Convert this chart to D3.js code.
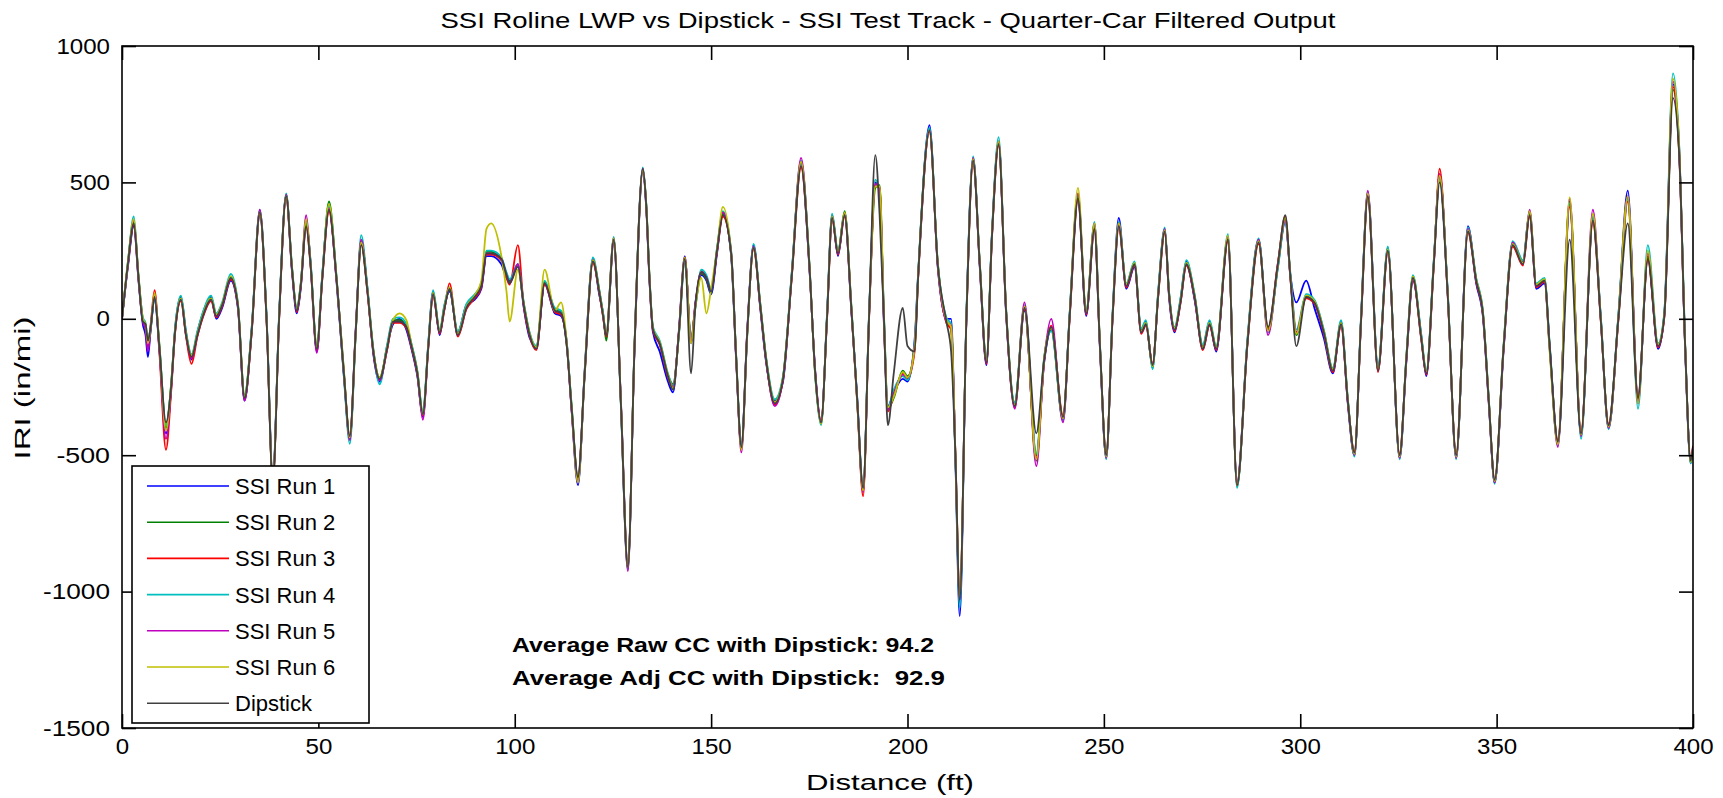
<!DOCTYPE html>
<html>
<head>
<meta charset="utf-8">
<script src="https://cdn.jsdelivr.net/npm/d3@7"></script>
<style>
body { margin: 0; background: #fff; }
text { font-family: "Liberation Sans", Arial, sans-serif; }
</style>
</head>
<body>
<script>
var width = 1723,
    height = 798;
var plotLeft = 122,
    plotRight = 1693,
    plotTop = 46,
    plotBottom = 728;

// distance along the track (ft), shared by every series
var dist = [0,1.5,3.0,4.2,5.3,6.0,6.6,7.3,8.3,9.5,
  11.2,12.5,13.5,15.0,16.3,17.7,19.2,20.6,22.7,24.0,
  25.5,27.7,29.5,31.2,33.0,35.1,36.8,38.4,40.0,41.8,
  43.3,44.5,45.5,46.9,48.0,49.6,51.0,52.7,54.6,56.5,
  58.0,59.5,60.9,62.5,64.0,65.6,67.5,69.0,70.7,72.4,
  73.7,75.2,76.6,78.0,79.2,80.9,82.0,83.4,85.5,87.7,
  89.8,91.5,92.8,94.0,96.6,97.9,98.7,100.8,102.3,103.8,
  105.5,107.6,110.2,111.8,113.2,114.5,116.1,117.8,119.9,121.5,
  122.5,123.3,125.2,127.0,128.8,130.5,132.6,133.5,134.3,135.2,
  136.9,139.0,140.3,141.8,143.3,144.9,146.0,147.5,148.8,150.0,
  151.5,153.0,155.1,156.4,157.7,159.2,160.8,162.5,164.0,166.2,
  168.3,170.5,172.9,175.0,176.5,178.0,179.5,180.8,182.3,184.0,
  185.7,187.2,188.7,190.2,191.8,192.9,194.0,195.0,196.5,198.8,
  200.0,201.8,202.7,205.6,207.7,209.9,211.1,212.2,213.3,215.0,
  216.7,218.4,220.1,221.5,223.2,225.1,227.3,229.8,232.8,234.8,
  236.6,239.6,241.3,243.4,245.5,247.6,249.0,250.6,252.2,253.8,
  255.7,257.8,259.5,260.7,262.4,263.8,265.5,266.6,268.0,269.5,
  271.0,273.1,275.2,276.9,278.6,281.6,283.9,286.5,289.4,291.8,
  294.3,296.2,297.5,299.0,301.5,303.6,306.0,308.3,310.4,312.1,
  313.8,315.5,317.2,319.8,322.3,325.3,327.0,328.7,330.8,332.1,
  334.0,335.5,337.5,339.7,342.7,344.8,346.5,348.0,349.5,351.8,
  354.1,356.7,358.4,360.1,362.2,363.5,365.6,368.6,371.5,374.5,
  376.5,378.5,381.0,383.4,386.0,388.5,391.1,392.7,394.9,396.5,
  398.0,399.4,400.0];

var run1 = [0,190,340,140,-20,-60,-140,-40,70,-110,
  -420,-260,-40,80,-50,-150,-50,20,80,0,
  40,140,40,-300,-40,380,10,-580,10,450,
  170,20,110,350,210,-120,160,410,140,-210,
  -440,-40,280,110,-130,-230,-100,-20,0,-40,
  -110,-210,-360,-90,100,-60,40,100,-50,50,
  70,110,230,230,200,150,140,200,40,-70,
  -100,130,20,10,-80,-340,-610,-190,220,90,
  20,-70,280,-290,-900,-110,540,400,140,-50,
  -120,-230,-270,-40,230,-90,60,160,140,90,
  240,390,230,-160,-470,-40,270,40,-160,-300,
  -230,160,570,190,-190,-380,10,380,230,390,
  30,-290,-630,10,500,470,-20,-320,-270,-220,
  -230,-80,160,710,190,0,0,-520,-1090,10,
  590,190,-170,310,650,20,-310,30,-500,-160,
  -40,-370,20,450,10,340,-110,-510,10,370,
  110,190,-40,-10,-180,90,330,80,-50,70,
  210,70,-100,-10,-120,300,-600,-90,290,-40,
  190,360,160,60,140,40,-70,-200,-10,-310,
  -500,10,460,-180,260,-510,-160,140,-60,-210,
  210,520,110,-510,340,130,10,-310,-600,-110,
  280,210,390,110,130,-110,-460,430,-430,370,
  10,-400,10,470,-300,230,-110,20,860,620,
  -110,-530,-480];

var run2 = [0,210,355,160,0,-30,-110,-40,85,-90,
  -400,-240,-45,75,-55,-135,-55,15,75,15,
  55,155,55,-280,-45,395,5,-590,5,455,
  185,35,125,360,205,-100,155,430,155,-190,
  -440,-55,285,105,-115,-215,-105,-5,-5,-25,
  -95,-195,-345,-95,95,-45,35,105,-55,45,
  85,125,245,245,215,165,135,195,55,-55,
  -105,135,35,25,-95,-320,-590,-210,215,105,
  15,-80,295,-305,-915,-95,545,415,155,-35,
  -85,-205,-240,-55,215,-70,45,165,145,95,
  255,385,235,-145,-475,-55,265,55,-145,-305,
  -215,155,575,205,-205,-385,5,375,245,395,
  45,-305,-630,5,480,490,10,-330,-290,-190,
  -210,-110,155,695,205,-5,-30,-505,-1040,5,
  585,205,-155,305,645,35,-315,45,-520,-145,
  -35,-365,15,445,25,345,-95,-505,5,345,
  125,205,-45,-15,-175,85,325,95,-35,65,
  205,85,-105,-15,-105,295,-615,-95,285,-45,
  195,365,155,-60,85,65,-45,-185,-15,-295,
  -495,5,455,-185,255,-505,-145,155,-65,-195,
  205,530,105,-505,325,145,25,-295,-600,-95,
  275,205,385,125,145,-95,-455,420,-425,365,
  5,-395,5,445,-295,225,-95,15,840,605,
  -95,-525,-475];

var run3 = [0,195,345,145,-5,-25,-100,-20,105,-120,
  -480,-270,-55,65,-65,-165,-65,5,65,5,
  45,145,45,-295,-55,385,-5,-595,-5,445,
  175,25,115,335,195,-115,145,395,145,-205,
  -435,-45,275,95,-125,-225,-115,-15,-15,-35,
  -105,-205,-355,-105,85,-55,25,130,-65,35,
  75,115,235,235,215,150,125,270,45,-65,
  -115,125,25,15,-85,-335,-585,-205,205,95,
  5,-65,285,-295,-905,-105,545,405,145,-45,
  -95,-215,-255,-45,225,-80,55,175,155,105,
  245,375,245,-155,-475,-45,255,45,-155,-315,
  -225,145,555,195,-195,-375,-5,365,235,375,
  35,-310,-650,-5,490,480,-10,-340,-280,-200,
  -220,-120,145,685,195,-15,-40,-495,-1020,-5,
  575,195,-165,295,635,25,-325,35,-510,-155,
  -25,-355,5,435,15,325,-105,-495,-5,335,
  115,195,-55,-25,-165,75,315,85,-45,55,
  195,75,-115,-25,-115,285,-605,-105,275,-35,
  205,375,145,-50,75,55,-55,-195,-25,-305,
  -485,-5,445,-195,245,-495,-155,145,-75,-205,
  195,550,95,-495,315,135,15,-305,-595,-105,
  265,195,375,115,135,-105,-445,410,-415,355,
  -5,-385,-5,430,-285,215,-105,5,850,595,
  -105,-515,-465];

var run4 = [0,205,375,155,5,-15,-90,-25,75,-95,
  -390,-245,-35,85,-45,-130,-45,25,85,20,
  60,165,60,-285,-35,400,15,-585,15,460,
  190,40,130,355,215,-105,165,415,160,-215,
  -458,-60,307,115,-110,-240,-95,0,5,-20,
  -90,-190,-340,-85,105,-40,45,115,-45,55,
  90,130,250,250,225,170,145,200,60,-50,
  -100,140,40,30,-80,-325,-600,-195,225,110,
  20,-55,300,-310,-920,-90,555,420,160,-30,
  -80,-200,-245,-60,210,-75,40,180,160,110,
  260,395,250,-140,-465,-60,275,60,-140,-295,
  -210,165,580,210,-210,-390,15,385,250,385,
  50,-295,-625,15,510,460,20,-325,-260,-210,
  -225,-90,165,700,210,5,-20,-515,-1060,15,
  595,210,-150,315,666,40,-305,50,-495,-140,
  -45,-375,25,455,30,355,-90,-515,15,355,
  130,210,-35,-5,-185,95,335,100,-30,75,
  215,90,-95,-5,-100,310,-620,-85,295,-50,
  185,355,165,-40,90,70,-40,-180,-5,-290,
  -505,15,465,-175,265,-515,-140,160,-55,-190,
  215,520,115,-515,335,150,30,-290,-605,-90,
  285,215,395,130,150,-90,-465,425,-440,375,
  15,-405,15,440,-330,270,-90,25,900,630,
  -90,-530,-485];

var run5 = [0,200,360,150,-10,-40,-120,-35,90,-105,
  -440,-255,-50,70,-60,-145,-60,10,70,10,
  50,150,50,-300,-50,400,0,-590,0,455,
  180,30,120,380,200,-125,150,405,150,-200,
  -445,-50,290,100,-120,-225,-110,-10,-10,-30,
  -100,-200,-370,-100,90,-50,30,110,-60,40,
  80,120,240,240,220,160,130,200,50,-60,
  -110,130,30,20,-90,-340,-600,-200,215,100,
  10,-60,295,-300,-925,-100,550,410,150,-40,
  -90,-210,-250,-50,220,-85,50,170,150,100,
  250,390,240,-150,-490,-50,265,50,-150,-320,
  -220,150,590,200,-200,-380,0,375,240,385,
  40,-300,-635,0,495,475,0,-335,-275,-205,
  -215,-100,150,690,200,-10,-25,-500,-1030,0,
  590,200,-160,300,650,30,-330,60,-540,-150,
  0,-380,10,460,20,350,-100,-510,0,350,
  120,200,-50,-20,-170,80,330,90,-40,60,
  200,80,-110,-20,-110,300,-610,-100,290,-60,
  200,360,150,-50,80,60,-50,-190,-20,-300,
  -500,0,470,-190,250,-510,-150,150,-70,-200,
  200,530,100,-510,330,140,20,-300,-600,-100,
  280,200,400,120,140,-100,-470,440,-430,400,
  0,-400,0,450,-310,240,-100,10,870,610,
  -100,-520,-470];

var run6 = [0,205,365,155,0,-20,-90,-30,95,-95,
  -410,-245,-45,75,-55,-135,-55,15,75,15,
  55,155,55,-285,-45,390,5,-590,5,450,
  185,35,125,365,205,-105,155,420,155,-195,
  -435,-55,280,105,-115,-215,-105,-5,20,-5,
  -95,-195,-350,-95,95,-45,35,115,-55,45,
  85,140,330,350,230,100,-10,180,55,-55,
  -105,180,30,60,-80,-330,-600,-195,215,105,
  15,-55,295,-295,-910,-95,545,415,155,-35,
  -85,-205,-255,-55,225,-90,45,150,20,110,
  255,410,240,-145,-480,-55,260,55,-145,-305,
  -215,155,575,205,-205,-385,5,375,245,390,
  45,-305,-630,5,485,485,5,-325,-285,-195,
  -215,-105,155,690,205,-5,-30,-500,-1020,5,
  585,205,-155,305,650,35,-315,45,-515,-145,
  -35,-365,15,480,25,350,-95,-505,5,350,
  125,205,-45,-15,-175,85,325,95,-35,65,
  205,85,-105,-15,-105,305,-610,-95,285,-45,
  195,370,155,-55,85,65,-45,-185,-15,-295,
  -495,5,460,-185,255,-505,-145,155,-65,-195,
  205,525,105,-505,325,145,25,-295,-595,-95,
  275,205,395,125,145,-120,-460,445,-425,385,
  5,-395,5,450,-310,250,-95,15,880,625,
  -95,-525,-475];

var dipstick = [0,200,350,150,-10,-20,-80,-30,80,-100,
  -380,-250,-50,70,-60,-140,-60,10,70,10,
  50,150,50,-290,-50,390,0,-600,0,450,
  180,30,120,340,200,-110,150,400,150,-200,
  -430,-50,270,100,-120,-220,-110,-10,-10,-30,
  -100,-200,-350,-100,90,-50,30,110,-60,40,
  80,120,240,240,220,160,130,190,50,-60,
  -110,130,30,20,-90,-330,-580,-200,210,100,
  10,-60,290,-300,-910,-100,550,410,150,-40,
  -90,-210,-260,-50,220,-200,50,170,150,100,
  250,380,240,-150,-470,-50,260,50,-150,-310,
  -220,150,560,200,-200,-380,0,370,240,380,
  40,-300,-620,0,600,380,0,-390,-200,40,
  -100,-120,150,690,200,-10,-120,-500,-1030,0,
  580,200,-160,300,640,30,-320,40,-420,-150,
  -30,-360,10,440,20,330,-100,-500,0,340,
  120,200,-50,-20,-170,80,320,90,-40,60,
  200,80,-110,-20,-110,290,-610,-100,280,-30,
  200,380,150,-100,80,60,-50,-190,-20,-300,
  -490,0,450,-190,250,-500,-150,150,-70,-200,
  200,500,100,-500,320,140,20,-300,-590,-100,
  270,200,380,120,140,-100,-450,290,-420,360,
  0,-390,0,350,-290,220,-100,10,810,600,
  -100,-520,-470];

var seriesNames = ["SSI Run 1", "SSI Run 2", "SSI Run 3", "SSI Run 4", "SSI Run 5", "SSI Run 6", "Dipstick"];
var seriesValues = [run1, run2, run3, run4, run5, run6, dipstick];
var seriesColors = ["#0000ff", "#008000", "#ff0000", "#00bfbf", "#bf00bf", "#bfbf00", "#404040"];

var xTicks = [0, 50, 100, 150, 200, 250, 300, 350, 400];
var yTicks = [-1500, -1000, -500, 0, 500, 1000];

var titleText = "SSI Roline LWP vs Dipstick - SSI Test Track - Quarter-Car Filtered Output";
var xLabel = "Distance (ft)";
var yLabel = "IRI (in/mi)";
var notes = ["Average Raw CC with Dipstick: 94.2", "Average Adj CC with Dipstick:  92.9"];

var xScale = d3.scaleLinear()
    .domain([0, 400])
    .range([plotLeft, plotRight]);

var yScale = d3.scaleLinear()
    .domain([-1500, 1000])
    .range([plotBottom, plotTop]);

// the original figure uses a wide bitmap font, so stretch text to its width
function stretch(sel, w) {
  sel.attr("textLength", w).attr("lengthAdjust", "spacingAndGlyphs");
}

//Create SVG element
var svg = d3.select("body")
    .append("svg")
    .attr("width", width)
    .attr("height", height);

svg.append("clipPath")
    .attr("id", "plotClip")
  .append("rect")
    .attr("x", plotLeft)
    .attr("y", plotTop)
    .attr("width", plotRight - plotLeft)
    .attr("height", plotBottom - plotTop);

var line = d3.line()
    .x(function(d, i) { return xScale(dist[i]); })
    .y(function(d) { return yScale(d); })
    .curve(d3.curveMonotoneX);

//Draw runs first, dipstick on top
svg.append("g")
    .attr("clip-path", "url(#plotClip)")
  .selectAll("path")
    .data(seriesValues)
    .enter()
    .append("path")
    .attr("d", line)
    .attr("fill", "none")
    .attr("stroke", function(d, i) { return seriesColors[i]; })
    .attr("stroke-width", 1.8)
    .attr("stroke-linejoin", "round");

//Axes, MATLAB style with ticks pointing inward
var tickLen = 14;
var plainNum = function(d) { return String(d); };

svg.append("g")
    .attr("transform", "translate(0," + plotBottom + ")")
    .call(d3.axisBottom(xScale).tickValues(xTicks).tickSize(-tickLen).tickPadding(10).tickFormat(plainNum))
    .call(function(g) { g.select(".domain").remove(); });

svg.append("g")
    .attr("transform", "translate(0," + plotTop + ")")
    .call(d3.axisTop(xScale).tickValues(xTicks).tickSize(-tickLen).tickFormat(""))
    .call(function(g) { g.select(".domain").remove(); });

svg.append("g")
    .attr("transform", "translate(" + plotLeft + ",0)")
    .call(d3.axisLeft(yScale).tickValues(yTicks).tickSize(-tickLen).tickPadding(12).tickFormat(plainNum))
    .call(function(g) { g.select(".domain").remove(); });

svg.append("g")
    .attr("transform", "translate(" + plotRight + ",0)")
    .call(d3.axisRight(yScale).tickValues(yTicks).tickSize(-tickLen).tickFormat(""))
    .call(function(g) { g.select(".domain").remove(); });

svg.selectAll(".tick line")
    .attr("stroke", "#000")
    .attr("stroke-width", 1.6);

svg.selectAll(".tick text")
    .attr("fill", "#000")
    .style("font-size", "22px")
    .each(function() {
      var s = d3.select(this).text();
      if (s) stretch(d3.select(this), s.length * 13.4);
    });

svg.append("rect")
    .attr("x", plotLeft)
    .attr("y", plotTop)
    .attr("width", plotRight - plotLeft)
    .attr("height", plotBottom - plotTop)
    .attr("fill", "none")
    .attr("stroke", "#000")
    .attr("stroke-width", 1.6);

//Title and axis labels
svg.append("text")
    .attr("x", 888)
    .attr("y", 28)
    .attr("text-anchor", "middle")
    .style("font-size", "22px")
    .text(titleText)
    .call(stretch, 895);

svg.append("text")
    .attr("x", 890)
    .attr("y", 790)
    .attr("text-anchor", "middle")
    .style("font-size", "22px")
    .text(xLabel)
    .call(stretch, 168);

svg.append("text")
    .attr("transform", "translate(30," + ((plotTop + plotBottom) / 2 + 1) + ") rotate(-90)")
    .attr("text-anchor", "middle")
    .style("font-size", "22px")
    .text(yLabel)
    .call(stretch, 143);

//Correlation notes
var noteWidths = [422, 433];

svg.selectAll(".note")
    .data(notes)
    .enter()
    .append("text")
    .attr("class", "note")
    .attr("x", 512)
    .attr("y", function(d, i) { return 652 + i * 33; })
    .attr("font-weight", "bold")
    .style("font-size", "21px")
    .style("white-space", "pre")
    .attr("xml:space", "preserve")
    .attr("textLength", function(d, i) { return noteWidths[i]; })
    .attr("lengthAdjust", "spacingAndGlyphs")
    .text(function(d) { return d; });

//Legend
var legend = svg.append("g");

legend.append("rect")
    .attr("x", 132)
    .attr("y", 466)
    .attr("width", 237)
    .attr("height", 257)
    .attr("fill", "#fff")
    .attr("stroke", "#000")
    .attr("stroke-width", 1.6);

var entries = legend.selectAll(".entry")
    .data(seriesNames)
    .enter()
    .append("g")
    .attr("class", "entry")
    .attr("transform", function(d, i) { return "translate(0," + (486 + i * 36.2) + ")"; });

entries.append("line")
    .attr("x1", 147)
    .attr("x2", 229)
    .attr("stroke", function(d, i) { return seriesColors[i]; })
    .attr("stroke-width", 1.6);

entries.append("text")
    .attr("x", 235)
    .attr("y", 8)
    .style("font-size", "22px")
    .text(function(d) { return d; });
</script>
</body>
</html>
